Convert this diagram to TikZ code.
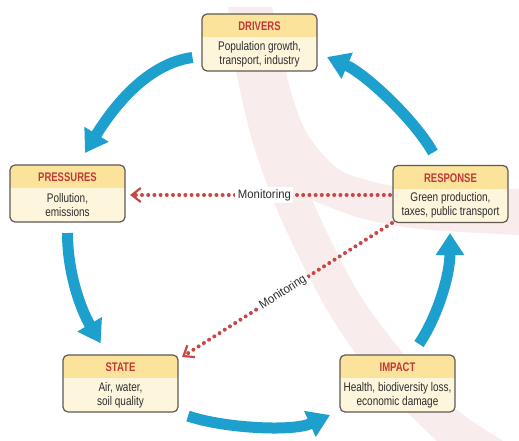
\documentclass[tikz,border=0pt]{standalone}
\usepackage{fontspec}
\setmainfont{Liberation Sans}
\newfontfamily\titlefont{Liberation Sans}[FakeStretch=0.76]
\newfontfamily\bodyfont{Liberation Sans}[FakeStretch=0.8]
\newfontfamily\monfont{Liberation Sans}[FakeStretch=0.93]
\usetikzlibrary{arrows.meta,calc}
\definecolor{bgpink}{RGB}{248,236,236}
\definecolor{hdr}{RGB}{251,227,156}
\definecolor{bodyc}{RGB}{253,245,220}
\definecolor{edgec}{RGB}{95,90,82}
\definecolor{ttl}{RGB}{194,56,56}
\definecolor{txt}{RGB}{45,45,45}
\definecolor{cyc}{RGB}{30,160,206}
\definecolor{mon}{RGB}{200,70,68}
\newcommand\dpsirbox[5]{%
  \node[boxbody] (#1) at (#2,#3) {};
  \begin{scope}
    \clip[rounded corners=5pt] (#1.north west) rectangle (#1.south east);
    \fill[hdr] (#1.north west) rectangle ($(#1.north east)+(0,23)$);
  \end{scope}
  \draw[boxline] (#1.north west) rectangle (#1.south east);
  \node[titletext] (#1-t) at ($(#1.north)+(0,12.5)$) {#4};
  \node[bodytext] (#1-b) at ($(#1.north)+(0,40)$) {#5};
}
\begin{document}
\begin{tikzpicture}[x=1pt,y=-1pt,
  boxbody/.style={rectangle, minimum width=115pt, minimum height=57pt, inner sep=0pt, outer sep=0pt, fill=bodyc, rounded corners=5pt},
  boxline/.style={draw=edgec, line width=1.2pt, rounded corners=5pt},
  titletext/.style={text=ttl, font=\titlefont\bfseries\fontsize{12.5}{14}\selectfont, inner sep=0pt},
  bodytext/.style={text=txt, font=\bodyfont\fontsize{12.5}{14}\selectfont, align=center, inner sep=0pt},
  cycarrow/.style={draw=cyc, line width=11pt, -{Triangle[length=22pt,width=27pt]}},
  monit/.style={draw=mon, line width=4pt, line cap=round, dash pattern=on 0pt off 6.2pt,
    -{Straight Barb[length=9pt,width=14pt,line width=2.2pt]}},
  monlabel/.style={fill=white, text=txt, font=\monfont\fontsize{12.2}{14}\selectfont, inner sep=2.5pt}
]
\useasboundingbox (0,0) rectangle (519,441);
\fill[white] (0,0) rectangle (519,441);
% background sickle shape
\fill[bgpink] plot[smooth] coordinates {(228,7) (236,70) (252,140) (275,205) (303,265) (333,320) (368,370) (405,410) (437,441)}
  -- (503,441)
  -- plot[smooth] coordinates {(503,441) (457,410) (410,362) (363,300) (333,245) (312,200)}
  -- plot[smooth] coordinates {(312,200) (360,218) (420,229) (519,235)}
  -- (519,189)
  -- plot[smooth] coordinates {(519,189) (440,188) (393,186) (340,170) (305,130) (285,70) (272,7)}
  -- cycle;
% boxes (placed first so anchors exist)
\dpsirbox{drivers}{259.5}{42.5}{DRIVERS}{Population growth,\\ transport, industry}
\dpsirbox{pressures}{67.5}{193.5}{PRESSURES}{Pollution,\\ emissions}
\dpsirbox{response}{450.5}{194}{RESPONSE}{Green production,\\ taxes, public transport}
\dpsirbox{state}{120.5}{383.5}{STATE}{Air, water,\\ soil quality}
\dpsirbox{impact}{397.5}{383.5}{IMPACT}{Health, biodiversity loss,\\ economic damage}
% cycle arrows
\draw[cycarrow] ($(drivers.west)+(-9.5,15)$) .. controls +(-45,6) and +(29,-47) .. ($(pressures.north)+(17.5,-12)$);
\draw[cycarrow] ($(pressures.south)+(0,11)$) .. controls +(0,40) and +(-20,-34) .. ($(state.north)+(-19.8,-11.7)$);
\draw[cycarrow] ($(state.east)+(10,32.5)$) .. controls +(35,12) and +(-38,17) .. ($(impact.west)+(-10,31.5)$);
\draw[cycarrow] ($(impact.north)+(21.5,-11)$) .. controls +(20,-30) and +(0,40) .. ($(response.south)+(-0.5,10.5)$);
\draw[cycarrow] ($(response.north)+(-17.5,-13)$) .. controls +(-20,-35) and +(37,16) .. ($(drivers.east)+(10,14.5)$);
% monitoring lines
\draw[monit] ($(response.west)+(-3,1)$) -- node[monlabel, pos=0.483] (mlab1) {Monitoring} ($(pressures.east)+(5,1.5)$);
\draw[monit] ($(response.south west)+(-1,0.5)$) -- node[monlabel, sloped, pos=0.519] (mlab2) {Monitoring} ($(state.north east)+(4,2)$);
\end{tikzpicture}
\end{document}
